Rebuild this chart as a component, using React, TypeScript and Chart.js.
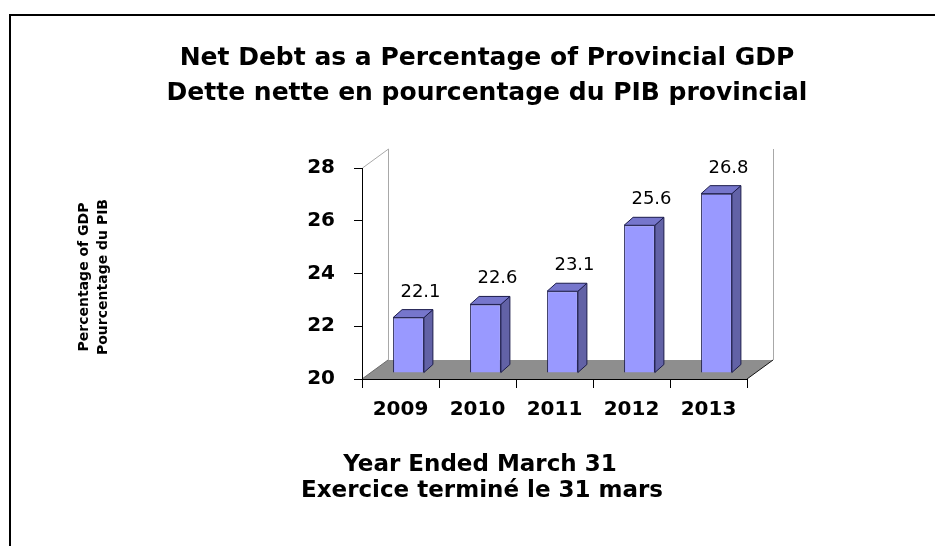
import { useEffect, useRef } from 'react';
import { Chart, registerables } from 'chart.js';

Chart.register(...registerables);

const years = ['2009', '2010', '2011', '2012', '2013'];
const netDebtPct = [22.1, 22.6, 23.1, 25.6, 26.8];
const yTickValues = [20, 22, 24, 26, 28];
const titleLines = ['Net Debt as a Percentage of Provincial GDP', 'Dette nette en pourcentage du PIB provincial'];
const yTitleLines = ['Percentage of GDP', 'Pourcentage du PIB'];
const xTitleLines = ['Year Ended March 31', 'Exercice terminé le 31 mars'];

const FONT = '"DejaVu Sans", "Liberation Sans", sans-serif';
const DEPTH = { x: 26, y: -19 };
const BAR_SHIFT = { x: 8, y: -6 };
const BAR_DEPTH = { x: 9, y: -8 };
const FRONT = '#9999ff';
const SIDE = '#6262a6';
const TOP = '#7676cc';
const EDGE = '#1c1c4c';

const bar3d = {
  id: 'bar3d',
  beforeDraw(chart: any) {
    const { ctx, chartArea: a } = chart;
    ctx.save();
    ctx.fillStyle = '#000';
    ctx.fillRect(9, 14, chart.width - 9, 2);
    ctx.fillRect(9, 14, 2, chart.height - 14);
    // floor
    ctx.fillStyle = '#8e8e8e';
    ctx.beginPath();
    ctx.moveTo(a.left, a.bottom);
    ctx.lineTo(a.right, a.bottom);
    ctx.lineTo(a.right + DEPTH.x, a.bottom + DEPTH.y);
    ctx.lineTo(a.left + DEPTH.x, a.bottom + DEPTH.y);
    ctx.closePath();
    ctx.fill();
    // back wall edges
    ctx.strokeStyle = '#a8a8a8';
    ctx.lineWidth = 1;
    ctx.beginPath();
    ctx.moveTo(a.left + 0.5, a.top);
    ctx.lineTo(a.left + DEPTH.x + 0.5, a.top + DEPTH.y);
    ctx.lineTo(a.left + DEPTH.x + 0.5, a.bottom + DEPTH.y);
    ctx.moveTo(a.right + DEPTH.x + 0.5, a.top + DEPTH.y);
    ctx.lineTo(a.right + DEPTH.x + 0.5, a.bottom + DEPTH.y);
    ctx.stroke();
    ctx.strokeStyle = '#6a6a6a';
    ctx.beginPath();
    ctx.moveTo(a.left, a.bottom);
    ctx.lineTo(a.left + DEPTH.x, a.bottom + DEPTH.y);
    ctx.stroke();
    ctx.strokeStyle = '#111';
    ctx.beginPath();
    ctx.moveTo(a.right, a.bottom);
    ctx.lineTo(a.right + DEPTH.x, a.bottom + DEPTH.y);
    ctx.stroke();
    ctx.restore();
  },
  beforeDatasetsDraw(chart: any) {
    chart.ctx.save();
    chart.ctx.translate(BAR_SHIFT.x, BAR_SHIFT.y);
  },
  afterDatasetsDraw(chart: any) {
    const ctx = chart.ctx;
    const meta = chart.getDatasetMeta(0);
    ctx.lineWidth = 1;
    ctx.strokeStyle = EDGE;
    ctx.lineJoin = 'round';
    meta.data.forEach((bar: any) => {
      const { x, y, base, width } = bar.getProps(['x', 'y', 'base', 'width'], true);
      const l = x - width / 2;
      const r = x + width / 2;
      ctx.beginPath();
      ctx.moveTo(r, y);
      ctx.lineTo(r + BAR_DEPTH.x, y + BAR_DEPTH.y);
      ctx.lineTo(r + BAR_DEPTH.x, base + BAR_DEPTH.y);
      ctx.lineTo(r, base);
      ctx.closePath();
      ctx.fillStyle = SIDE;
      ctx.fill();
      ctx.stroke();
      ctx.beginPath();
      ctx.moveTo(l, y);
      ctx.lineTo(l + BAR_DEPTH.x, y + BAR_DEPTH.y);
      ctx.lineTo(r + BAR_DEPTH.x, y + BAR_DEPTH.y);
      ctx.lineTo(r, y);
      ctx.closePath();
      ctx.fillStyle = TOP;
      ctx.fill();
      ctx.stroke();
    });
    ctx.restore();
    // value labels
    ctx.save();
    ctx.fillStyle = '#000';
    ctx.font = `18px ${FONT}`;
    ctx.textAlign = 'center';
    ctx.textBaseline = 'alphabetic';
    const ds = chart.data.datasets[0].data;
    meta.data.forEach((bar: any, i: number) => {
      const { x, y } = bar.getProps(['x', 'y'], true);
      ctx.fillText(String(ds[i]), x + 20, y - 27);
    });
    ctx.restore();
  },
  afterDraw(chart: any) {
    const ctx = chart.ctx;
    ctx.save();
    ctx.fillStyle = '#000';
    ctx.textAlign = 'center';
    ctx.textBaseline = 'alphabetic';
    ctx.font = `bold 25px ${FONT}`;
    ctx.fillText(titleLines[0], 487, 65);
    ctx.fillText(titleLines[1], 487, 100);
    ctx.font = `bold 23px ${FONT}`;
    ctx.fillText(xTitleLines[0], 480, 471);
    ctx.fillText(xTitleLines[1], 482, 497);
    ctx.font = `bold 14px ${FONT}`;
    ctx.textBaseline = 'middle';
    ctx.save();
    ctx.translate(84, 277);
    ctx.rotate(-Math.PI / 2);
    ctx.fillText(yTitleLines[0], 0, 0);
    ctx.restore();
    ctx.save();
    ctx.translate(103, 277);
    ctx.rotate(-Math.PI / 2);
    ctx.fillText(yTitleLines[1], 0, 0);
    ctx.restore();
    ctx.restore();
  },
};

export default function App() {
  const ref = useRef<HTMLCanvasElement>(null);
  useEffect(() => {
    if (!ref.current) return;
    const chart = new Chart(ref.current, {
      type: 'bar',
      data: {
        labels: years,
        datasets: [
          {
            data: netDebtPct,
            base: yTickValues[0],
            backgroundColor: FRONT,
            borderColor: EDGE,
            borderWidth: 1,
            categoryPercentage: 1,
            barPercentage: 0.4,
            clip: false as any,
          },
        ],
      },
      options: {
        responsive: false,
        animation: false,
        devicePixelRatio: 1,
        layout: { padding: { top: 168, right: 188, left: 0, bottom: 0 } },
        plugins: { legend: { display: false }, tooltip: { enabled: false }, title: { display: false } },
        scales: {
          x: {
            grid: { display: true, drawOnChartArea: false, drawTicks: true, tickLength: 9, color: '#000', offset: true },
            border: { display: true, color: '#000', width: 1 },
            ticks: { color: '#000', font: { family: FONT, size: 20, weight: 'bold' }, padding: 10, maxRotation: 0 },
            afterFit: (s: any) => { s.height = 167; },
          },
          y: {
            min: yTickValues[0],
            max: yTickValues[yTickValues.length - 1],
            afterBuildTicks: (s: any) => { s.ticks = yTickValues.map((v) => ({ value: v })); },
            grid: { display: true, drawOnChartArea: false, drawTicks: true, tickLength: 8, color: '#000' },
            border: { display: true, color: '#000', width: 1 },
            ticks: { color: '#000', font: { family: FONT, size: 20, weight: 'bold' }, padding: 19 },
            afterFit: (s: any) => { s.width = 362; },
          },
        },
      },
      plugins: [bar3d],
    });
    return () => chart.destroy();
  }, []);
  return (
    <div style={{ position: 'absolute', left: 0, top: 0, width: 935, height: 546, background: '#fff' }}>
      <canvas ref={ref} width={935} height={546} style={{ display: 'block' }} />
    </div>
  );
}
